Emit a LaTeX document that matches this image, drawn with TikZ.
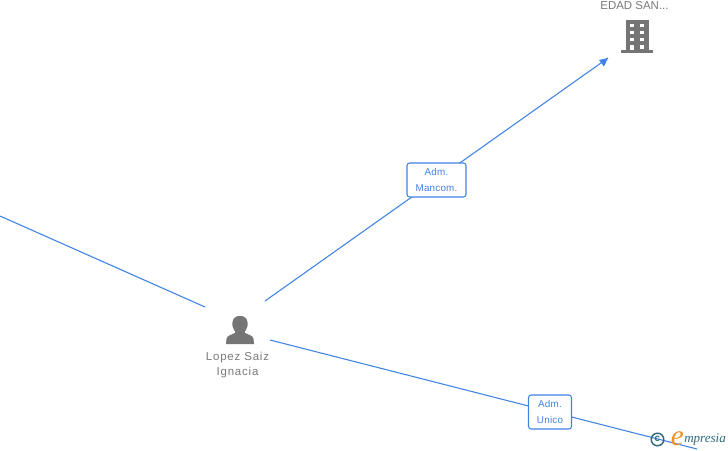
\documentclass[tikz,border=0pt]{standalone}
\usepackage{fontspec}
\setmainfont{Liberation Sans}
\newfontfamily\logofont{Liberation Serif}
\definecolor{edgeblue}{HTML}{3F83E4}
\definecolor{labelgrey}{HTML}{7A7A7A}
\definecolor{icongrey}{HTML}{757575}
\definecolor{logoteal}{HTML}{2F6B7A}
\definecolor{logoorange}{HTML}{E8922A}
\tikzset{
  edge/.style={draw=edgeblue,line width=0.8pt},
  rolebox/.style={draw=edgeblue,fill=white,rounded corners=2pt,line width=0.8pt,align=center,text=edgeblue,font=\fontsize{7.4}{11.8}\selectfont\addfontfeature{LetterSpace=2},inner sep=0pt},
  caption/.style={text=labelgrey,align=center,font=\fontsize{8.6}{11.5}\selectfont,inner sep=0pt},
  spaced/.style={font=\fontsize{8.6}{11.5}\selectfont\addfontfeature{LetterSpace=7}},
  win/.style={fill=white,draw=none}
}
\begin{document}
\begin{tikzpicture}[x=0.75pt,y=-0.75pt]
\useasboundingbox (0,0) rectangle (728,450);
\fill[white] (0,0) rectangle (728,450);
% free ends and anchors
\coordinate (leftend) at (0,216);
\coordinate (leftstop) at (205,307);
\coordinate (upstart) at (265,301);
\coordinate (uptip) at (608,58);
\coordinate (downstart) at (270,340);
\coordinate (downend) at (697,449);
% connectors
\draw[edge] (leftend) -- (leftstop);
\draw[edge] (downstart) -- (downend);
\draw[edge] (upstart) -- (uptip);
\fill[edgeblue] (uptip) -- (599,60) -- (604,66.5) -- cycle;
% labels
\node[rolebox,minimum width=44.25pt,minimum height=25.5pt] (mancom) at (436.5,180) {Adm.\\Mancom.};
\node[rolebox,minimum width=32.25pt,minimum height=25.5pt] (unico) at (550,412) {Adm.\\Unico};
% building
\node[caption,anchor=base] (company) at (634.5,9) {EDAD SAN...};
\fill[icongrey] (625.5,20) rectangle (648.5,50);
\fill[icongrey] (621,50) rectangle (652.5,53);
\foreach \yy in {23.5,30.7,37.5}{
  \fill[win] (630,\yy) rectangle (634,\yy+3.6);
  \fill[win] (639.5,\yy) rectangle (643.5,\yy+3.6);
}
\fill[win] (630,44.5) rectangle (634,50);
\fill[win] (639.5,44.5) rectangle (643.5,48.5);
% person
\fill[icongrey] (240,316) .. controls (232.5,316) and (232,322) .. (232.5,326) .. controls (233,329) and (235,331) .. (235.5,332.5) .. controls (232,335) and (227,335) .. (226.5,339) -- (226,344) -- (254,344) -- (253.5,339) .. controls (253,335) and (248,335) .. (244.5,332.5) .. controls (245,331) and (247,329) .. (247.5,326) .. controls (248,322) and (247.5,316) .. (240,316) -- cycle;
\node[caption,spaced] (person) at (237.5,365) {Lopez Saiz\\Ignacia};
% logo
\draw[logoteal,line width=1.1pt] (657.5,439.5) circle (4.7pt);
\node[text=logoteal,inner sep=0pt,font=\fontsize{7.5}{8}\selectfont\bfseries] (copyr) at (657.5,439.2) {c};
\node[text=logoorange,inner sep=0pt,anchor=base,font=\logofont\itshape\fontsize{22}{22}\selectfont] (logoe) at (677.5,445) {e};
\node[text=logoteal,inner sep=0pt,anchor=base west,font=\logofont\itshape\fontsize{9.8}{10}\selectfont] (logotext) at (684,442.5) {mpresia};
\end{tikzpicture}
\end{document}
